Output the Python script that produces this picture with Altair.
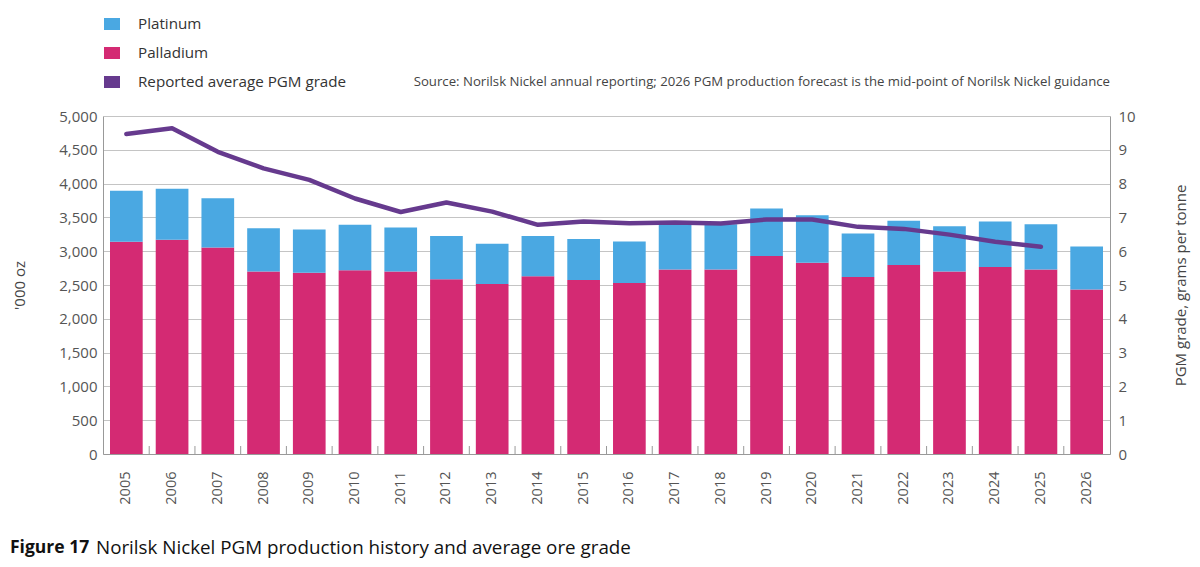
import altair as alt
import pandas as pd

years = [str(y) for y in range(2005, 2027)]
palladium = [3140, 3170, 3055, 2700, 2680, 2720, 2700, 2585, 2515, 2630, 2575,
             2530, 2730, 2730, 2930, 2830, 2620, 2795, 2700, 2765, 2730, 2435]
platinum = [755, 755, 730, 640, 640, 670, 650, 640, 595, 595, 605,
            615, 680, 670, 700, 700, 640, 655, 670, 675, 670, 635]
grade_years = [str(y) for y in range(2005, 2026)]
grade = [9.47, 9.64, 8.94, 8.45, 8.11, 7.56, 7.16, 7.44, 7.17, 6.78, 6.88,
         6.83, 6.85, 6.82, 6.94, 6.94, 6.72, 6.66, 6.49, 6.28, 6.13]
series = ["Platinum", "Palladium", "Reported average PGM grade"]
colors = ["#4aa8e2", "#d42a73", "#663a8e"]
source_text = ("Source: Norilsk Nickel annual reporting; 2026 PGM production forecast "
               "is the mid-point of Norilsk Nickel guidance")
fig_label = "Figure 17"
fig_caption = "Norilsk Nickel PGM production history and average ore grade"

FONT = "Open Sans"

rows = []
for y, pd_v, pt_v in zip(years, palladium, platinum):
    rows.append({"year": y, "metal": "Palladium", "oz": pd_v, "ord": 0})
    rows.append({"year": y, "metal": "Platinum", "oz": pt_v, "ord": 1})
bars_df = pd.DataFrame(rows)
grade_df = pd.DataFrame({"year": grade_years, "grade": grade})
ticks_df = pd.DataFrame({"year": years[:-1]})

xscale = alt.Scale(domain=years, paddingInner=0.285, paddingOuter=0.153)
xaxis = alt.Axis(title=None, labelAngle=270, labelAlign="right", labelBaseline="middle",
                 labelPadding=17, ticks=False, grid=False, domainColor="#999",
                 labelFontSize=14.5, labelColor="#555", labelFont=FONT)

bars = alt.Chart(bars_df).mark_bar().encode(
    x=alt.X("year:N", scale=xscale, axis=xaxis),
    y=alt.Y("oz:Q", stack="zero",
            scale=alt.Scale(domain=[0, 5000], nice=False),
            axis=alt.Axis(title="'000 oz", values=list(range(0, 5001, 500)), format=",d",
                          ticks=False, labelPadding=6, labelFontSize=15, labelColor="#555",
                          labelFont=FONT, domainColor="#999", gridColor="#c4c4c4",
                          titleFont=FONT, titleFontSize=15, titleFontWeight="normal",
                          titleColor="#444", titleAngle=270, titleX=-79, titleY=169,
                          titleBaseline="alphabetic", titleAlign="center")),
    color=alt.Color("metal:N", scale=alt.Scale(domain=series, range=colors),
                    legend=alt.Legend(title=None, orient="none", legendX=1, legendY=-100,
                                      symbolType="M-1,-0.75H1V0.75H-1Z", symbolSize=256,
                                      symbolStrokeWidth=0, symbolOpacity=1,
                                      labelFontSize=15.2, labelColor="#333", labelFont=FONT,
                                      labelOffset=18, rowPadding=12, labelLimit=500)),
    order=alt.Order("ord:Q"),
)

ticks = alt.Chart(ticks_df).mark_rule(color="#999", strokeWidth=1, xOffset=22.87).encode(
    x=alt.X("year:N", scale=xscale),
    y=alt.value(338),
    y2=alt.value(330),
)

line = alt.Chart(grade_df).mark_line(color="#663a8e", strokeWidth=4.5,
                                     strokeJoin="round", strokeCap="round").encode(
    x=alt.X("year:N", scale=xscale),
    y=alt.Y("grade:Q", scale=alt.Scale(domain=[0, 10], nice=False),
            axis=alt.Axis(orient="right", title="PGM grade, grams per tonne",
                          values=list(range(0, 11)), ticks=False, grid=False,
                          labelPadding=8, labelFontSize=15, labelColor="#555",
                          labelFont=FONT, domainColor="#999",
                          titleFont=FONT, titleFontSize=15, titleFontWeight="normal",
                          titleColor="#444", titleAngle=270, titleX=75, titleY=169,
                          titleBaseline="alphabetic", titleAlign="center")),
)

source = alt.Chart(pd.DataFrame({"t": [source_text]})).mark_text(
    align="right", baseline="middle", font=FONT, fontSize=13.2,
    color="#444").encode(text="t:N", x=alt.value(1007), y=alt.value(-34))
cap1 = alt.Chart(pd.DataFrame({"t": [fig_label]})).mark_text(
    align="left", baseline="middle", font=FONT, fontSize=17.5, fontWeight="bold",
    color="#111").encode(text="t:N", x=alt.value(-93), y=alt.value(432))
cap2 = alt.Chart(pd.DataFrame({"t": [fig_caption]})).mark_text(
    align="left", baseline="middle", font=FONT, fontSize=18.8,
    color="#111").encode(text="t:N", x=alt.value(-7), y=alt.value(432))

chart = alt.layer(bars, ticks, line, source, cap1, cap2).resolve_scale(
    y="independent"
).properties(
    width=1007, height=338,
    autosize="none",
    padding={"left": 95, "top": 108, "right": 82, "bottom": 112},
).configure_view(stroke=None)

chart.save("out.html", embed_options={"renderer": "svg", "actions": False})
